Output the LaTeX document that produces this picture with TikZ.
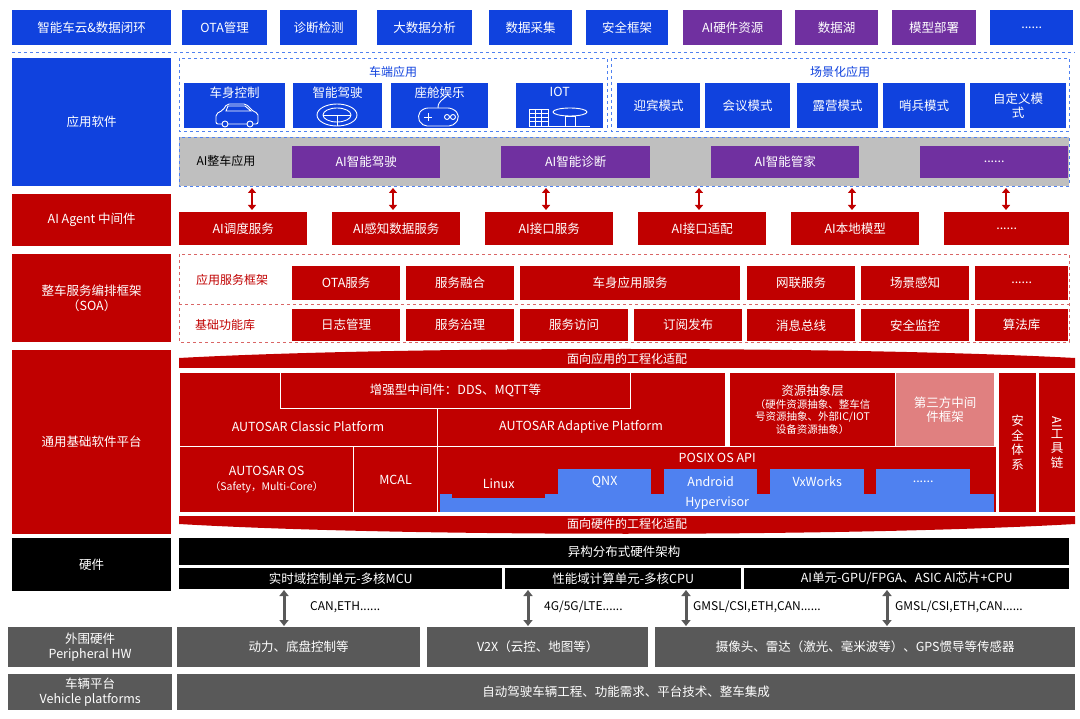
\documentclass[tikz,border=0pt]{standalone}
\usepackage{fontspec}
\setmainfont{Noto Sans CJK SC}
\usetikzlibrary{arrows.meta}
\definecolor{bD}{RGB}{16,66,222}
\definecolor{pu}{RGB}{112,48,160}
\definecolor{rd}{RGB}{192,0,0}
\definecolor{lb}{RGB}{79,129,240}
\definecolor{pk}{RGB}{224,128,128}
\definecolor{gB}{RGB}{89,89,89}
\definecolor{gL}{RGB}{191,191,191}
\newcommand\bx[7][]{\node[box,#1, minimum width={(#4-#2)*1pt}, minimum height={(#5-#3)*1pt}] (#6) at (#2,#3) {#7};}
\tikzset{
 box/.style={anchor=north west, inner sep=0pt, align=center, text=white, font=\fontsize{12.5}{14.5}\selectfont},
 bl/.style={fill=bD}, pp/.style={fill=pu}, rr/.style={fill=rd}, kk/.style={fill=black}, gg/.style={fill=gB},
 wb/.style={draw=white, line width=1.2pt},
 dashb/.style={draw=lb, dashed, line width=0.7pt},
 dashr/.style={draw=rd!60, dashed, line width=0.6pt},
 rarr/.style={rd, line width=2pt, {Triangle[length=5pt,width=8pt]}-{Triangle[length=5pt,width=8pt]}},
 garr/.style={gB, line width=3pt, {Triangle[length=6pt,width=9pt]}-{Triangle[length=6pt,width=9pt]}},
 ic/.style={white, line width=0.9pt},
 lab/.style={font=\fontsize{12}{14}\selectfont, inner sep=1pt}
}
\begin{document}
\begin{tikzpicture}[x=1pt,y=-1pt]
\useasboundingbox (0,0) rectangle (1080,719);
% row 1
\bx[bl]{12}{10}{171}{45}{t1}{智能车云\&数据闭环}
\bx[bl]{182}{10}{267}{45}{t2}{OTA管理}
\bx[bl]{280}{10}{357}{45}{t3}{诊断检测}
\bx[bl]{377}{10}{472}{45}{t4}{大数据分析}
\bx[bl]{489}{10}{572}{45}{t5}{数据采集}
\bx[bl]{586}{10}{668}{45}{t6}{安全框架}
\bx[pp]{683}{10}{782}{45}{t7}{AI硬件资源}
\bx[pp]{795}{10}{878}{45}{t8}{数据湖}
\bx[pp]{892}{10}{976}{45}{t9}{模型部署}
\bx[bl]{990}{10}{1073}{45}{t10}{......}
\draw[dashb] (12,52) -- (1075,52);
% left column
\bx[bl]{12}{58}{171}{186}{l1}{应用软件}
\bx[rr]{12}{194}{171}{246}{l2}{AI Agent 中间件}
\bx[rr]{12}{254}{171}{342}{l3}{整车服务编排框架\\（SOA）}
\bx[rr]{12}{350}{171}{534}{l4}{通用基础软件平台}
\bx[kk]{12}{538}{171}{591}{l5}{硬件}
\bx[gg]{8}{627}{172}{667}{l6}{外围硬件\\Peripheral HW}
\bx[gg]{8}{674}{172}{710}{l7}{车辆平台\\Vehicle platforms}
% app area
\draw[dashb] (179,58) rectangle (607,131);
\draw[dashb] (611,58) rectangle (1069,131);
\node[lab,text=bD] (ca) at (393,72) {车端应用};
\node[lab,text=bD] (cj) at (840,72) {场景化应用};
\bx[bl,text depth=27pt]{184}{83}{285}{128}{a1}{车身控制}
\bx[bl,text depth=27pt]{293}{83}{382}{128}{a2}{智能驾驶}
\bx[bl,text depth=27pt]{391}{83}{488}{128}{a3}{座舱娱乐}
\bx[bl,text depth=27pt]{516}{83}{603}{128}{a4}{IOT}
% icons
\draw[ic,rounded corners=2pt] (216,124) -- (216,114) -- (223,110) -- (227,104) -- (246,104) -- (254,112) -- (258,113) -- (258,124) -- cycle;
\draw[ic] (228,106) -- (226,111) -- (251,111) -- (245,106) -- cycle;
\draw[ic,fill=bD] (225,124) circle (3); \draw[ic,fill=bD] (250,124) circle (3);
\draw[ic] (337,115) ellipse (20 and 11); \draw[ic] (337,115) ellipse (14 and 7);
\draw[ic] (323,115) -- (351,115); \draw[ic] (337,115) -- (337,126);
\draw[ic,rounded corners=5pt] (422,126) -- (417,116) -- (423,108) -- (453,108) -- (460,116) -- (454,126) -- cycle;
\draw[ic] (424,117) -- (432,117) (428,113) -- (428,121);
\draw[ic] (447,117) circle (2.5) (453,117) circle (2.5);
\draw[ic] (438,108) .. controls (438,100) and (444,100) .. (446,96);
\draw[ic] (529,109) rectangle (548,126);
\foreach \yy in {113,117,121} \draw[ic] (529,\yy) -- (548,\yy);
\draw[ic] (535,109) -- (535,126) (541,109) -- (541,126);
\draw[ic] (570,112) ellipse (17 and 4); \draw[ic] (565,116) rectangle (575,126);
\draw[ic] (548,126) -- (590,126);
\bx[bl]{617}{83}{700}{128}{s1}{迎宾模式}
\bx[bl]{705}{83}{790}{128}{s2}{会议模式}
\bx[bl]{797}{83}{878}{128}{s3}{露营模式}
\bx[bl]{883}{83}{965}{128}{s4}{哨兵模式}
\bx[bl]{970}{83}{1066}{128}{s5}{自定义模\\式}
% AI whole-vehicle
\fill[gL] (179,137) rectangle (1069,186);
\draw[dashb] (179,137) rectangle (1069,186);
\node[lab] (aiz) at (226,161) {AI整车应用};
\bx[pp]{292}{146}{440}{178}{p1}{AI智能驾驶}
\bx[pp]{501}{146}{650}{178}{p2}{AI智能诊断}
\bx[pp]{711}{146}{859}{178}{p3}{AI智能管家}
\bx[pp]{920}{146}{1068}{178}{p4}{......}
% agent row
\bx[rr]{179}{212}{307}{245}{g1}{AI调度服务}
\bx[rr]{332}{212}{460}{245}{g2}{AI感知数据服务}
\bx[rr]{485}{212}{613}{245}{g3}{AI接口服务}
\bx[rr]{638}{212}{766}{245}{g4}{AI接口适配}
\bx[rr]{791}{212}{919}{245}{g5}{AI本地模型}
\bx[rr]{944}{212}{1069}{245}{g6}{......}
\foreach \xx in {252,393,546,699,852,1006} \draw[rarr] (\xx,188) -- (\xx,210);
% SOA
\draw[dashr] (179,254) rectangle (1069,342);
\draw[dashr] (179,304) -- (1069,304);
\node[lab,text=rd] (f1) at (232,280) {应用服务框架};
\node[lab,text=rd] (f2) at (225,325) {基础功能库};
\bx[rr]{292}{266}{400}{300}{o1}{OTA服务}
\bx[rr]{406}{266}{514}{300}{o2}{服务融合}
\bx[rr]{520}{266}{740}{300}{o3}{车身应用服务}
\bx[rr]{747}{266}{855}{300}{o4}{网联服务}
\bx[rr]{861}{266}{969}{300}{o5}{场景感知}
\bx[rr]{975}{266}{1068}{300}{o6}{......}
\bx[rr]{292}{309}{400}{341}{b1}{日志管理}
\bx[rr]{406}{309}{514}{341}{b2}{服务治理}
\bx[rr]{520}{309}{628}{341}{b3}{服务访问}
\bx[rr]{634}{309}{742}{341}{b4}{订阅发布}
\bx[rr]{747}{309}{855}{341}{b5}{消息总线}
\bx[rr]{861}{309}{969}{341}{b6}{安全监控}
\bx[rr]{975}{309}{1068}{341}{b7}{算法库}
% platform
\fill[rd] (179,368) -- (179,358) .. controls (400,346) and (850,346) .. (1075,358) -- (1075,368) -- cycle;
\node[lab,text=white] (ad1) at (627,359) {面向应用的工程化适配};
\fill[rd] (179,516) -- (1075,516) -- (1075,524) .. controls (850,537) and (400,537) .. (179,524) -- cycle;
\node[lab,text=white] (ad2) at (627,524) {面向硬件的工程化适配};
\bx[rr,wb]{179}{372}{437}{446}{c1}{}
\bx[rr,wb]{437}{372}{725}{446}{c2}{}
\bx[rr,wb]{280}{372}{630}{408}{c3}{增强型中间件：DDS、MQTT等}
\node[box,anchor=center] (c1t) at (308,427) {AUTOSAR Classic Platform};
\node[box,anchor=center] (c2t) at (581,427) {AUTOSAR Adaptive Platform};
\bx[rr,wb,font=\fontsize{10.5}{12.5}\selectfont]{729}{372}{895}{446}{c4}{{\fontsize{12.5}{13.5}\selectfont 资源抽象层}\\（硬件资源抽象、整车信\\号资源抽象、外部IC/IOT\\设备资源抽象）}
\bx[wb,fill=pk]{895}{372}{994}{446}{c5}{第三方中间\\件框架}
\bx[rr,wb]{998}{372}{1036}{512}{c6}{安\\全\\体\\系}
\bx[rr,wb]{1038}{372}{1075}{512}{c7}{\rotatebox{-90}{AI}\\工\\具\\链}
\bx[rr,wb]{179}{446}{353}{512}{c8}{AUTOSAR OS\\{\fontsize{10.5}{12}\selectfont（Safety，Multi-Core）}}
\bx[rr,wb]{353}{446}{437}{512}{c9}{MCAL}
\bx[rr,wb]{437}{446}{996}{512}{c10}{}
\bx[rr]{440}{449}{994}{466}{px}{POSIX OS API}
\bx[fill=lb]{440}{494}{994}{512}{hy}{Hypervisor}
\bx[rr]{452}{469}{545}{498}{os1}{Linux}
\bx[fill=lb]{558}{469}{651}{494}{os2}{QNX}
\bx[fill=lb]{664}{469}{757}{494}{os3}{Android}
\bx[fill=lb]{770}{469}{864}{494}{os4}{VxWorks}
\bx[fill=lb]{876}{469}{970}{494}{os5}{......}
% hardware
\bx[kk]{179}{538}{1069}{565}{h0}{异构分布式硬件架构}
\bx[kk]{179}{568}{502}{589}{h1}{实时域控制单元-多核MCU}
\bx[kk]{505}{568}{741}{589}{h2}{性能域计算单元-多核CPU}
\bx[kk]{744}{568}{1069}{589}{h3}{AI单元-GPU/FPGA、ASIC AI芯片+CPU}
\bx[gg]{177}{627}{420}{667}{q1}{动力、底盘控制等}
\bx[gg]{427}{627}{648}{667}{q2}{V2X（云控、地图等）}
\bx[gg]{655}{627}{1075}{667}{q3}{摄像头、雷达（激光、毫米波等）、GPS惯导等传感器}
\bx[gg]{177}{674}{1075}{710}{q4}{自动驾驶车辆工程、功能需求、平台技术、整车集成}
\draw[garr] (284,590) -- (284,626);
\draw[garr] (528,590) -- (528,626);
\draw[garr] (686,590) -- (686,626);
\draw[garr] (887,590) -- (887,626);
\node[lab,anchor=west] (k1) at (309,607) {CAN,ETH......};
\node[lab,anchor=west] (k2) at (543,607) {4G/5G/LTE......};
\node[lab,anchor=west] (k3) at (692,607) {GMSL/CSI,ETH,CAN......};
\node[lab,anchor=west] (k4) at (894,607) {GMSL/CSI,ETH,CAN......};
\end{tikzpicture}
\end{document}
